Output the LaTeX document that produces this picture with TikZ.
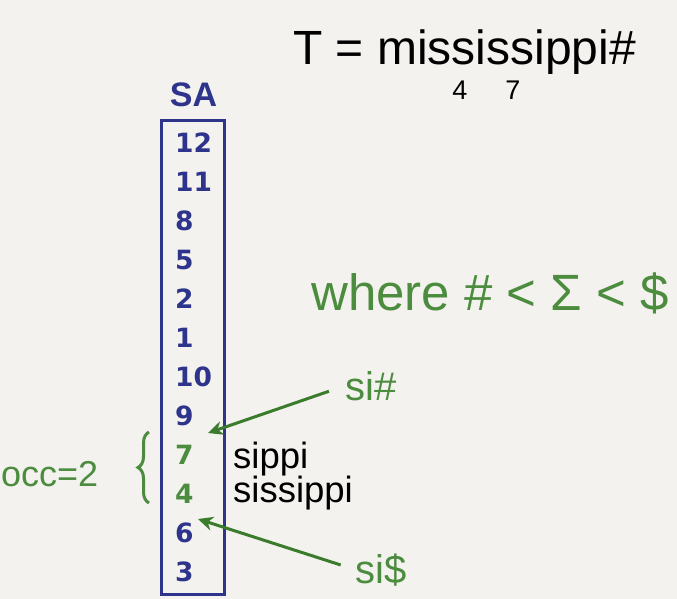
\documentclass[tikz,border=0pt]{standalone}
\usepackage{fontspec}
\setmainfont{Liberation Sans}
\newfontfamily\numfont{DejaVu Sans}
\usetikzlibrary{positioning,arrows.meta,decorations.pathreplacing}
\definecolor{slidebg}{RGB}{243,242,238}
\definecolor{sablue}{RGB}{46,52,140}
\definecolor{notegreen}{RGB}{76,140,62}
\definecolor{arrowgreen}{RGB}{58,124,44}

\begin{document}
\begin{tikzpicture}[x=1pt, y=-1pt,
    idx/.style={anchor=west, inner sep=0pt, font=\numfont\bfseries\fontsize{26.5}{30}\selectfont, text=sablue},
    hit/.style={idx, text=notegreen},
    suffix/.style={anchor=base west, inner sep=0pt, font=\fontsize{36.5}{42}\selectfont},
    note/.style={inner sep=0pt, text=notegreen, font=\fontsize{40}{46}\selectfont},
    arrow/.style={-{Stealth[length=15pt,width=14pt]}, line width=3pt, draw=arrowgreen}
]
\fill[slidebg] (0,0) rectangle (677,599);
\useasboundingbox (0,0) rectangle (677,599);

% text and alphabet
\node[anchor=base west, inner sep=0pt, font=\fontsize{48}{56}\selectfont] (text) at (293,65) {T = mississippi\#};
\node[anchor=base, inner sep=0pt, font=\fontsize{27}{32}\selectfont] (pos4) at (460,100) {4};
\node[anchor=base, inner sep=0pt, font=\fontsize{27}{32}\selectfont] (pos7) at (513,100) {7};
\node[anchor=base west, inner sep=0pt, text=notegreen, font=\fontsize{51}{58}\selectfont] (order) at (311,310) {where \# < Σ < \$};

% suffix array
\node[anchor=base, inner sep=0pt, text=sablue, font=\bfseries\fontsize{34}{40}\selectfont] (satitle) at (193.5,107) {SA};
\node[draw=sablue, line width=3pt, inner sep=0pt, minimum width=63pt, minimum height=474pt] (sabox) at (193,357.5) {};
\node[idx] (r1) at (175,143) {12};
\node[idx] (r2) at (175,182) {11};
\node[idx] (r3) at (175,221) {8};
\node[idx] (r4) at (175,260) {5};
\node[idx] (r5) at (175,299) {2};
\node[idx] (r6) at (175,338) {1};
\node[idx] (r7) at (175,377) {10};
\node[idx] (r8) at (175,416) {9};
\node[hit] (r9) at (175,455) {7};
\node[hit] (r10) at (175,494) {4};
\node[idx] (r11) at (175,533) {6};
\node[idx] (r12) at (175,572) {3};

% matching suffixes
\node[suffix] (suf7) at (233,468) {sippi};
\node[suffix] (suf4) at (233,502) {sissippi};

% range bounds
\node[note, anchor=base west] (lo) at (345,400) {si\#};
\node[note, anchor=base west] (hi) at (355,583) {si\$};
\coordinate (lopos) at (208,433);
\coordinate (hipos) at (198,519);
\draw[arrow, shorten <=17pt] (lo.west) -- (lopos);
\draw[arrow, shorten <=15pt] (hi.west) -- (hipos);

% count
\coordinate (bracetop) at (149,432);
\coordinate (bracebot) at (149,503);
\draw[notegreen, line width=3pt, decorate, decoration={brace, amplitude=11pt}] (bracebot) -- (bracetop);
\node[note, anchor=base west, font=\fontsize{36}{42}\selectfont] (occ) at (1,486) {occ=2};
\end{tikzpicture}
\end{document}
